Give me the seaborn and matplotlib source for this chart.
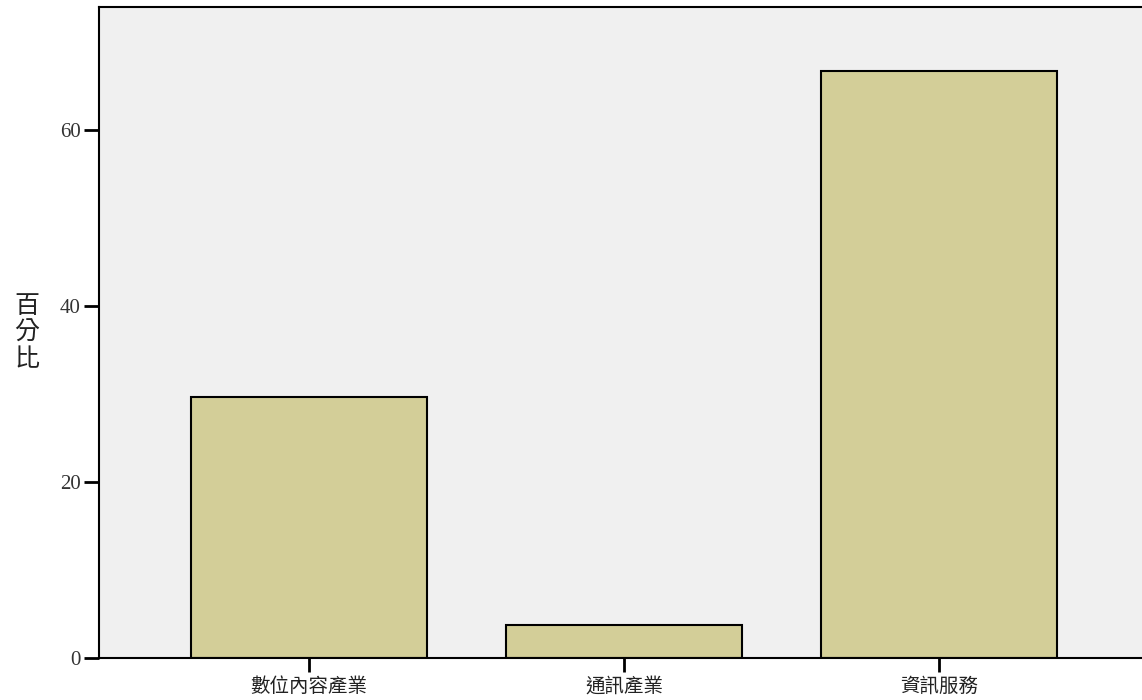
import matplotlib.pyplot as plt
import pandas as pd
import seaborn as sns

categories = ["數位內容產業", "通訊產業", "資訊服務"]
percent = [29.63, 3.70, 66.67]
y_ticks = [0, 20, 40, 60]

data = pd.DataFrame({"category": categories, "percent": percent})

sns.set_style("ticks")
plt.rcParams["font.family"] = ["Noto Sans CJK TC", "DejaVu Sans"]

fig = plt.figure(figsize=(11.42, 7), dpi=100)
ax = fig.add_axes([99 / 1142, 42 / 700, 1 - 99 / 1142, 651 / 700])
ax.set_facecolor("#f0f0f0")

sns.barplot(data=data, x="category", y="percent", color="#d3ce98",
            saturation=1, width=0.75, edgecolor="black", linewidth=1.5, ax=ax)

ax.set_xlim(-0.667, 2.645)
ax.set_ylim(0, 74)
ax.set_yticks(y_ticks)
ax.set_yticklabels([str(t) for t in y_ticks], family="Liberation Serif",
                   fontsize=15, color="#333333")
ax.tick_params(axis="y", length=11, width=2, pad=2, color="black")
ax.tick_params(axis="x", length=10, width=2, pad=3, labelsize=14,
               color="black", labelcolor="#222222")
ax.set_xlabel("")
ax.set_ylabel("百\n分\n比", rotation=0, fontsize=18, linespacing=1.02,
              labelpad=24, va="center", color="#222222")

for side in ["left", "bottom", "top"]:
    ax.spines[side].set_linewidth(1.5)
    ax.spines[side].set_color("black")
ax.spines["right"].set_visible(False)

fig.savefig("out.png", dpi=100)
